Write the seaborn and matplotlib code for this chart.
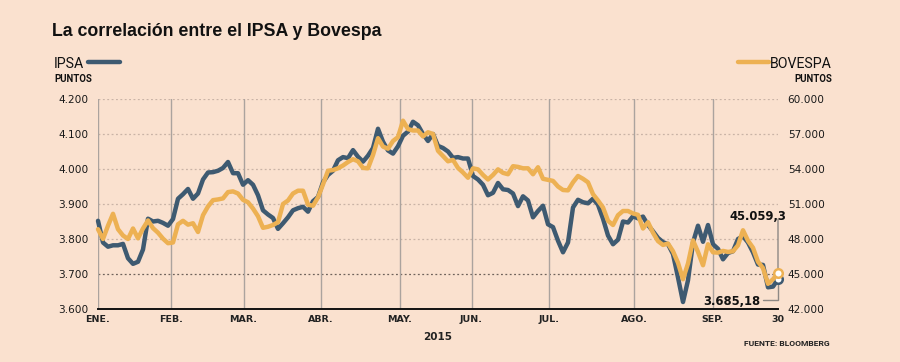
import matplotlib
matplotlib.use("Agg")
import matplotlib.pyplot as plt
import matplotlib.ticker as mticker
import seaborn as sns
import numpy as np

# ── data (one sample every ~1.4 trading days) ───────────────────────────────
ipsa = [3852, 3790, 3778, 3782, 3782, 3786, 3745, 3729, 3735, 3770,
        3858, 3850, 3852, 3846, 3838, 3857, 3915, 3928, 3943, 3915,
        3930, 3970, 3990, 3991, 3995, 4003, 4020, 3988, 3988, 3955,
        3968, 3955, 3925, 3882, 3870, 3860, 3829, 3845, 3862, 3882,
        3888, 3892, 3878, 3908, 3920, 3962, 3983, 3995, 4025, 4034,
        4031, 4054, 4035, 4021, 4038, 4060, 4115, 4078, 4053, 4044,
        4065, 4095, 4107, 4135, 4125, 4100, 4080, 4100, 4066, 4060,
        4050, 4032, 4034, 4030, 4030, 3980, 3970, 3955, 3925, 3932,
        3960, 3942, 3940, 3930, 3894, 3922, 3910, 3862, 3880, 3895,
        3842, 3834, 3795, 3762, 3790, 3890, 3912, 3905, 3902, 3915,
        3898, 3858, 3810, 3785, 3798, 3850, 3847, 3865, 3859, 3864,
        3840, 3822, 3803, 3791, 3785, 3757, 3690, 3620, 3682, 3790,
        3838, 3792, 3840, 3785, 3772, 3742, 3760, 3765, 3800, 3808,
        3790, 3762, 3727, 3726, 3662, 3664, 3685.18]

bovespa = [48840, 48000, 49140, 50160, 48840, 48300, 48000, 48900, 48060, 48900,
           49590, 48930, 48540, 48030, 47640, 47700, 49260, 49560, 49230, 49350,
           48600, 50040, 50790, 51330, 51390, 51480, 52020, 52080, 51900, 51360,
           51150, 50610, 49950, 48960, 49050, 49200, 49440, 51000, 51300, 51900,
           52140, 52140, 50940, 50850, 51570, 52680, 53850, 53910, 54060, 54300,
           54600, 54840, 54660, 54090, 54060, 55200, 56640, 55920, 55740, 56400,
           56730, 58140, 57420, 57300, 57300, 56790, 57150, 57000, 55560, 55110,
           54660, 54780, 54090, 53700, 53250, 54060, 53970, 53490, 53100, 53490,
           53970, 53670, 53550, 54240, 54180, 54060, 54060, 53550, 54150, 53160,
           53070, 52980, 52500, 52200, 52170, 52860, 53400, 53160, 52860, 51840,
           51300, 50700, 49560, 49200, 50040, 50400, 50400, 50190, 50070, 48900,
           49440, 48540, 47820, 47490, 47610, 46950, 45960, 44550, 45900, 47880,
           46890, 45750, 47550, 46860, 46830, 46980, 46890, 46950, 47460, 48750,
           47850, 47250, 46050, 45510, 44160, 44550, 45059.3]

month_labels = ["ENE.", "FEB.", "MAR.", "ABR.", "MAY.", "JUN.", "JUL.", "AGO.", "SEP.", "30"]
month_pos = [0, 14.6, 29.1, 44.6, 60.4, 74.7, 90.2, 107.2, 122.9, 136]
ipsa_ticks = [3600, 3700, 3800, 3900, 4000, 4100, 4200]
bov_ticks = [42000, 45000, 48000, 51000, 54000, 57000, 60000]

BG = "#FAE1CF"
C_IPSA = "#3E5A71"
C_BOV = "#EDB153"
GRID = "#C9B3A6"

sns.set_theme(style="white")
plt.rcParams["font.family"] = ["DejaVu Sans"]

idx = np.arange(len(ipsa))


def thousands(v, _pos=None):
    return f"{v:,.0f}".replace(",", ".")


fig = plt.figure(figsize=(9, 3.62), dpi=100, facecolor=BG)
ax = fig.add_axes([98 / 900, 1 - 309 / 362, 680 / 900, 210 / 362])
ax.set_facecolor(BG)

ax.set_xlim(0, len(ipsa) - 1)
ax.set_ylim(3600, 4200)

# grid: light dotted lines, darker one at 3.700, vertical month rules
for t in ipsa_ticks[1:]:
    if t == 3700:
        ax.axhline(t, color="#6F625B", lw=0.9, ls=(0, (1.5, 2.0)), zorder=1)
    else:
        ax.axhline(t, color=GRID, lw=0.9, ls=(0, (1.5, 2.0)), zorder=1)
for p in month_pos[:-1]:
    ax.axvline(p, color="#ABA39E", lw=1.0, zorder=1)

sns.lineplot(x=idx, y=ipsa, ax=ax, color=C_IPSA, lw=3.2, zorder=3,
             solid_joinstyle="round", solid_capstyle="round", clip_on=False)

ax2 = ax.twinx()
ax2.set_ylim(42000, 60000)
ax2.patch.set_visible(False)
sns.lineplot(x=idx, y=bovespa, ax=ax2, color=C_BOV, lw=3.2, zorder=3,
             solid_joinstyle="round", solid_capstyle="round", clip_on=False)

# end markers
ax.scatter([idx[-1]], [ipsa[-1]], s=38, facecolor="white", edgecolor=C_IPSA,
           linewidth=1.8, zorder=6, clip_on=False)
ax2.scatter([idx[-1]], [bovespa[-1]], s=38, facecolor="white", edgecolor=C_BOV,
            linewidth=1.8, zorder=6, clip_on=False)

# ticks
ax.set_yticks(ipsa_ticks)
ax.yaxis.set_major_formatter(mticker.FuncFormatter(thousands))
ax.tick_params(axis="y", length=0, pad=7, labelsize=7.6, labelcolor="#1a1a1a")
ax2.set_yticks(bov_ticks)
ax2.yaxis.set_major_formatter(mticker.FuncFormatter(thousands))
ax2.tick_params(axis="y", length=0, pad=7, labelsize=7.6, labelcolor="#1a1a1a")

ax.set_xticks(month_pos)
ax.set_xticklabels(month_labels, fontsize=6.8, fontweight="bold", color="#222222")
ax.tick_params(axis="x", length=0, pad=4)

for a in (ax, ax2):
    for side in ("left", "right", "top", "bottom"):
        a.spines[side].set_visible(False)
ax.spines["bottom"].set_visible(True)
ax.spines["bottom"].set_color("#111111")
ax.spines["bottom"].set_linewidth(1.4)
ax.set_xlabel("")
ax.set_ylabel("")
ax2.set_ylabel("")

# annotations for last values
ax2.annotate("", xy=(idx[-1], bovespa[-1]), xytext=(0, 39), textcoords="offset points",
             arrowprops=dict(arrowstyle="-", color="#8E8985", lw=1.0, shrinkA=0, shrinkB=3.5))
ax2.annotate("45.059,3", xy=(idx[-1], bovespa[-1]), xytext=(6, 41),
             textcoords="offset points", ha="right", va="center",
             fontsize=8.4, fontweight="bold", color="#111111")
ax.annotate("", xy=(idx[-1], ipsa[-1]), xytext=(-11, -15), textcoords="offset points",
            arrowprops=dict(arrowstyle="-", color="#8E8985", lw=1.0, shrinkA=0, shrinkB=3.5,
                            connectionstyle="angle,angleA=0,angleB=90,rad=0"))
ax.annotate("3.685,18", xy=(idx[-1], ipsa[-1]), xytext=(-12.5, -16),
            textcoords="offset points", ha="right", va="center",
            fontsize=8.4, fontweight="bold", color="#111111")

# title, legend keys and captions
narrow = ["Roboto", "DejaVu Sans"]
fig.text(52 / 900, 1 - 31 / 362, "La correlación entre el IPSA y Bovespa",
         fontsize=12.8, fontweight="bold", color="#111111", va="center",
         family=["Liberation Sans", "DejaVu Sans"])
fig.text(54 / 900, 1 - 64.5 / 362, "IPSA", fontsize=10.2, color="#111111",
         va="center", family=narrow)
fig.add_artist(plt.Line2D([88 / 900, 120 / 900], [1 - 62 / 362] * 2, color=C_IPSA,
                          lw=3.2, solid_capstyle="round"))
fig.text(54 / 900, 1 - 79.5 / 362, "PUNTOS", fontsize=6.9, fontweight="bold",
         color="#111111", va="center", family=narrow)
fig.text(832 / 900, 1 - 64.5 / 362, "BOVESPA", fontsize=10.2, color="#111111",
         va="center", ha="right", family=narrow)
fig.add_artist(plt.Line2D([738 / 900, 769 / 900], [1 - 62 / 362] * 2, color=C_BOV,
                          lw=3.2, solid_capstyle="round"))
fig.text(832 / 900, 1 - 79.5 / 362, "PUNTOS", fontsize=6.9, fontweight="bold",
         color="#111111", va="center", ha="right", family=narrow)
fig.text(438 / 900, 1 - 337 / 362, "2015", fontsize=7.5, fontweight="bold",
         color="#222222", ha="center", va="center")
fig.text(830 / 900, 1 - 344 / 362, "FUENTE: BLOOMBERG", fontsize=6.1, fontweight="bold",
         color="#222222", ha="right", va="center", family=narrow)

fig.savefig("out.png", dpi=100, facecolor=BG)
